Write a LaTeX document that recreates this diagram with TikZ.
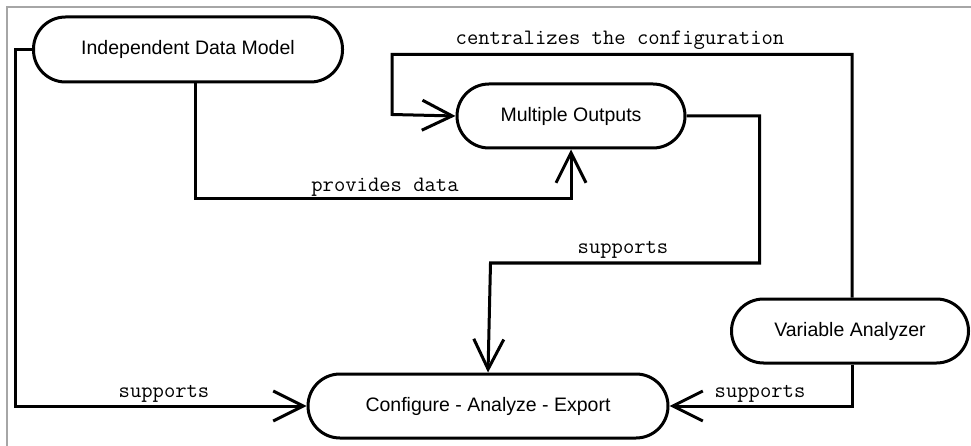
\documentclass[tikz,border=0pt]{standalone}
\usepackage{fontspec}
\setmainfont{Liberation Sans}
\usetikzlibrary{arrows.meta}
\begin{document}
\begin{tikzpicture}[x=1pt,y=-1pt,
  block/.style={draw,line width=3pt,rounded corners=32pt,minimum height=64pt,
    inner sep=0pt,font=\fontsize{19.5}{22}\selectfont},
  flow/.style={line width=3pt,
    -{Straight Barb[length=30pt,width=30pt,line width=3pt]}},
  lbl/.style={font=\ttfamily\fontsize{22}{24}\selectfont,anchor=base,inner sep=0pt}]
\useasboundingbox (0,0) rectangle (971,446);
\draw[gray!70,line width=1.2pt] (7,446) -- (7,7) -- (971,7);

% the four stages
\node[block,minimum width=309pt,minimum height=65pt] (idm) at (188,49.5) {Independent Data Model};
\node[block,minimum width=228pt] (mo)  at (571,116) {Multiple Outputs};
\node[block,minimum width=237pt] (va)  at (850,331) {Variable Analyzer};
\node[block,minimum width=360pt] (cae) at (488,406) {Configure - Analyze - Export};

% relations
\draw[flow] (idm.west) -- ++(-17,0) |- (cae.west);
\node[lbl] (l1) at (164,397) {supports};

\draw[flow] ([xshift=7pt]idm.south) -- ++(0,115) -| (mo.south);
\node[lbl] (l2) at (385,192) {provides data};

\draw[flow] (mo.east) -- ++(73,0) |- ++(-269,147) -- (cae.north);
\node[lbl] (l3) at (623,254) {supports};

\draw[flow] ([xshift=2pt]va.north) -- ++(0,-243) -| ++(-460,60) -- (mo.west);
\node[lbl] (l4) at (620,45) {centralizes the configuration};

\draw[flow] ([xshift=2pt]va.south) |- (cae.east);
\node[lbl] (l5) at (760,397) {supports};
\end{tikzpicture}
\end{document}
